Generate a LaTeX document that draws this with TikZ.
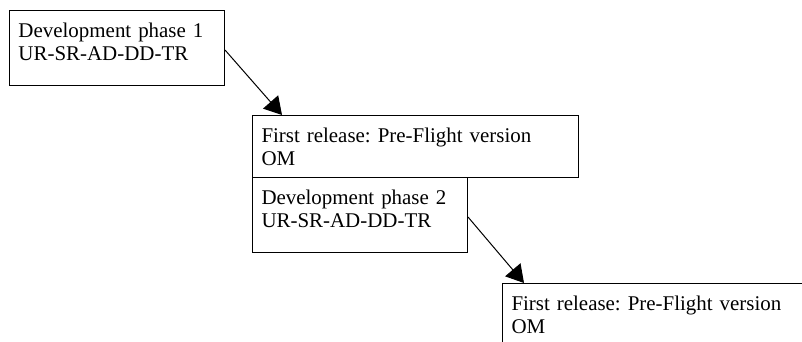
\documentclass[tikz,border=0pt]{standalone}
\usepackage{fontspec}
\setmainfont{Liberation Serif}
\usetikzlibrary{arrows.meta,positioning}
\frenchspacing

\begin{document}
\begin{tikzpicture}[x=0.75pt, y=-0.75pt, line width=0.75pt, phase node/.style={rectangle,draw,anchor=north west,align=left,inner xsep=6.75pt,inner ysep=0pt,text height=20.25pt,font=\fontsize{15.7}{17.25}\selectfont}, flow/.style={-{Triangle[length=13pt,width=15pt]}}]
\path[use as bounding box, clip] (0,0) rectangle (802,342);
\begin{scope}
\node[phase node, text width=147.75pt, text depth=36pt] (dev1) at (9,10) {Development phase 1\\UR-SR-AD-DD-TR};
\node[phase node, text width=231pt, text depth=26.25pt] (rel1) at (252,115) {First release: Pre-Flight version\\OM};
\node[phase node, text width=147.75pt, text depth=36pt] (dev2) at (252,177) {Development phase 2\\UR-SR-AD-DD-TR};
\node[phase node, text width=231pt, text depth=26.25pt] (rel2) at (502,283) {First release: Pre-Flight version\\OM};
\end{scope}
\begin{scope}
\draw[flow] ([yshift=-30pt]dev1.north east) -- ([xshift=22.5pt]rel1.north west);
\draw[flow] ([yshift=-30pt]dev2.north east) -- ([xshift=16.5pt]rel2.north west);
\end{scope}
\end{tikzpicture}
\end{document}
